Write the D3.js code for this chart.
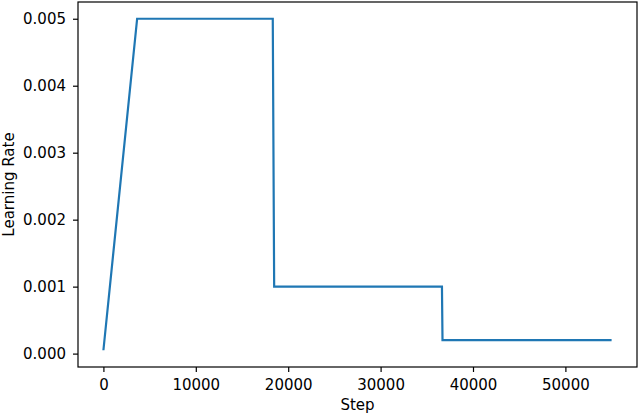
<!DOCTYPE html>
<html>
<head>
<meta charset="utf-8">
<script src="https://cdn.jsdelivr.net/npm/d3@7"></script>
<style>
  body { margin: 0; background: #fff; }
  svg { display: block; font-family: "DejaVu Sans", sans-serif; }
</style>
</head>
<body>
<svg id="chart" width="640" height="415"></svg>
<script>
// learning-rate schedule: warmup then step decay
const steps = [0, 3650, 18330, 18480, 36640, 36700, 55000]
const rates = [0.00005, 0.005, 0.005, 0.001, 0.001, 0.0002, 0.0002]
const xTicks = [0, 10000, 20000, 30000, 40000, 50000]
const yTicks = [0, 0.001, 0.002, 0.003, 0.004, 0.005]

const svg = d3.select('#chart')
const margin = {left: 78, right: 637, top: 2, bottom: 367}
const fontSize = '15px'

const x = d3.scaleLinear().domain([-2750, 57750]).range([margin.left, margin.right])
const y = d3.scaleLinear().domain([-0.0002, 0.00525]).range([margin.bottom, margin.top])

const data = steps.map((s, i) => ({s, r: rates[i]}))

svg.append('path')
   .datum(data)
   .attr('fill', 'none')
   .attr('stroke', '#1f77b4')
   .attr('stroke-width', 2.2)
   .attr('d', d3.line().x(d => x(d.s)).y(d => y(d.r)))

// frame
svg.append('rect')
   .attr('x', margin.left).attr('y', margin.top)
   .attr('width', margin.right - margin.left).attr('height', margin.bottom - margin.top)
   .attr('fill', 'none').attr('stroke', '#000').attr('stroke-width', 1.2)

const xAxis = svg.append('g')
   .attr('transform', `translate(0,${margin.bottom})`)
   .call(d3.axisBottom(x).tickValues(xTicks).tickFormat(d3.format('d'))
         .tickSize(5).tickPadding(7))
const yAxis = svg.append('g')
   .attr('transform', `translate(${margin.left},0)`)
   .call(d3.axisLeft(y).tickValues(yTicks).tickFormat(d3.format('.3f'))
         .tickSize(5).tickPadding(7))

for (const a of [xAxis, yAxis]) {
  a.select('.domain').remove()
  a.selectAll('.tick line').attr('stroke', '#000').attr('stroke-width', 1.2)
  a.selectAll('.tick text')
   .attr('fill', '#000')
   .style('font-family', '"DejaVu Sans", sans-serif')
   .style('font-size', fontSize)
}

svg.append('text')
   .attr('x', (margin.left + margin.right) / 2).attr('y', 410)
   .attr('text-anchor', 'middle')
   .style('font-size', fontSize)
   .text('Step')

svg.append('text')
   .attr('transform', `translate(14,${(margin.top + margin.bottom) / 2}) rotate(-90)`)
   .attr('text-anchor', 'middle')
   .style('font-size', fontSize)
   .text('Learning Rate')
</script>
</body>
</html>
